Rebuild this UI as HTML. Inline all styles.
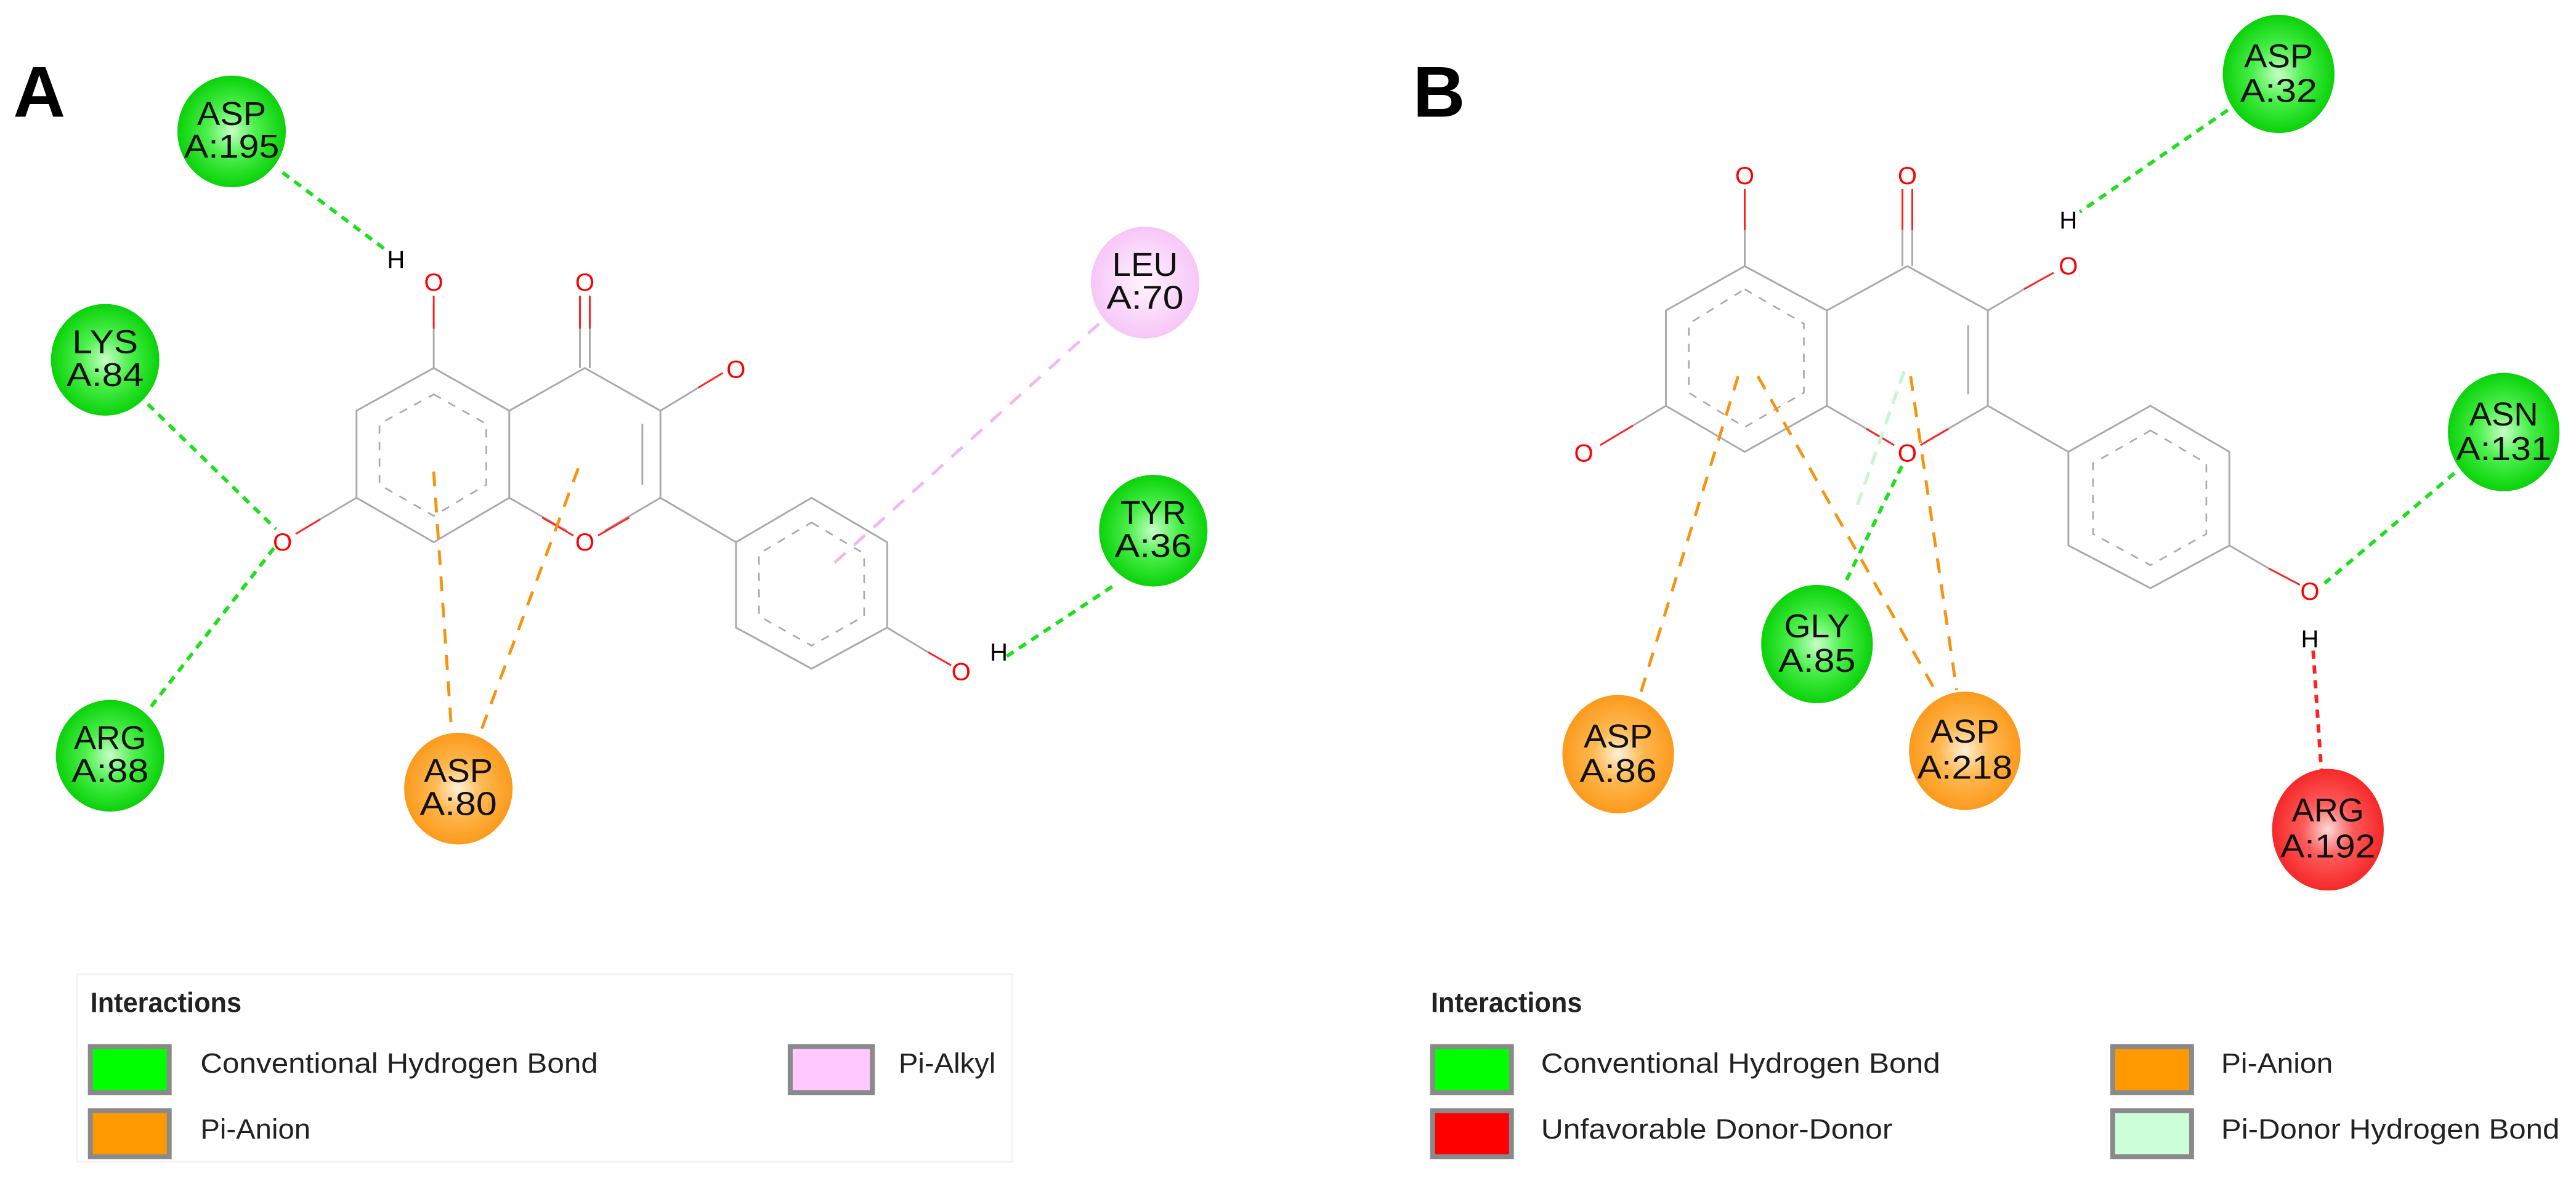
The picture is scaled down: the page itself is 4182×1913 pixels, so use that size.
<!DOCTYPE html>
<html><head><meta charset="utf-8"><style>
html,body{margin:0;padding:0;background:#fff;}
svg{display:block;}
text{font-family:"Liberation Sans Narrow","Liberation Sans",sans-serif;}
</style></head><body>
<svg width="4182" height="1913" viewBox="0 0 1568 717" preserveAspectRatio="none" xmlns="http://www.w3.org/2000/svg">
<defs>
<radialGradient id="gG" cx="50%" cy="50%" r="50%"><stop offset="0" stop-color="#c8ffc8"/><stop offset="0.45" stop-color="#4cf04c"/><stop offset="1" stop-color="#0ad20a"/></radialGradient>
<radialGradient id="gO" cx="50%" cy="50%" r="50%"><stop offset="0" stop-color="#fff0d8"/><stop offset="0.45" stop-color="#ffb850"/><stop offset="1" stop-color="#fb9a1c"/></radialGradient>
<radialGradient id="gP" cx="50%" cy="50%" r="50%"><stop offset="0" stop-color="#fff4ff"/><stop offset="1" stop-color="#f7c6f7"/></radialGradient>
<radialGradient id="gR" cx="50%" cy="50%" r="50%"><stop offset="0" stop-color="#ffd8d8"/><stop offset="0.45" stop-color="#ff5a5a"/><stop offset="1" stop-color="#f52828"/></radialGradient>
</defs>

<text x="8" y="71" font-family="Liberation Sans" font-weight="bold" font-size="44">A</text>
<text x="860" y="71" font-family="Liberation Sans" font-weight="bold" font-size="44">B</text>

<g stroke="#aaa" stroke-width="1.1" fill="none">
<polyline points="264,224 310,250 310,303 264,330 217,303 217,250 264,224"/>
<polyline points="310,250 356,224 402,250 402,303"/>
<polyline points="310,303 345,323"/>
<polyline points="402,303 368,323"/>
<line x1="391" y1="258" x2="391" y2="295"/>
<line x1="264" y1="224" x2="264" y2="185"/>
<line x1="353" y1="224" x2="353" y2="185"/>
<line x1="359" y1="224" x2="359" y2="185"/>
<line x1="402" y1="250" x2="425" y2="236"/>
<line x1="217" y1="303" x2="195" y2="316"/>
<polyline points="402,303 448,330 494,303 540,330 540,382 494,407 448,382 448,330"/>
<line x1="540" y1="382" x2="565" y2="397"/>
</g>
<g stroke="#aaa" stroke-width="1" fill="none" stroke-dasharray="5,5">
<polygon points="264,240 296,258 296,295 264,314 231,295 231,258"/>
<polygon points="494,318 526,337 526,375 494,393 462,375 462,337"/>
</g>
<g stroke="#f22" stroke-width="1.1">
<line x1="264" y1="200" x2="264" y2="180"/><line x1="353" y1="200" x2="353" y2="180"/><line x1="359" y1="200" x2="359" y2="180"/>
<line x1="425" y1="236" x2="440" y2="227"/><line x1="195" y1="316" x2="180" y2="325"/>
<line x1="565" y1="397" x2="579" y2="405"/><line x1="330" y1="315" x2="349" y2="326"/><line x1="383" y1="315" x2="364" y2="326"/>
</g>
<g fill="none" stroke-width="2.2" stroke-dasharray="5,4">
<line x1="172" y1="105" x2="236" y2="153" stroke="#1de01d"/>
<line x1="90" y1="246" x2="168" y2="322" stroke="#1de01d"/>
<line x1="92" y1="430" x2="168" y2="332" stroke="#1de01d"/>
<line x1="677" y1="357" x2="612" y2="400" stroke="#1de01d"/>
</g>
<g fill="none" stroke-width="1.8" stroke-dasharray="9,7">
<line x1="264" y1="287" x2="275" y2="447" stroke="#f7930d"/>
<line x1="352" y1="285" x2="292" y2="447" stroke="#f7930d"/>
<line x1="669" y1="197" x2="503" y2="347" stroke="#f3b6f3"/>
</g>
<g font-family="Liberation Sans" font-size="15" text-anchor="middle">
<text x="264" y="177" fill="#f00">O</text>
<text x="356" y="177" fill="#f00">O</text>
<text x="448" y="230" fill="#f00">O</text>
<text x="172" y="335" fill="#f00">O</text>
<text x="356" y="335" fill="#f00">O</text>
<text x="585" y="414" fill="#f00">O</text>
<text x="241" y="163" fill="#000">H</text>
<text x="608" y="402" fill="#000">H</text>
</g>

<g font-size="20" text-anchor="middle" fill="#111">
<ellipse cx="141" cy="80" rx="33" ry="34" fill="url(#gG)"/>
<text x="141" y="76" textLength="42" lengthAdjust="spacingAndGlyphs">ASP</text><text x="141" y="96" textLength="58" lengthAdjust="spacingAndGlyphs">A:195</text>
<ellipse cx="64" cy="219" rx="33" ry="34" fill="url(#gG)"/>
<text x="64" y="215" textLength="40" lengthAdjust="spacingAndGlyphs">LYS</text><text x="64" y="235" textLength="47" lengthAdjust="spacingAndGlyphs">A:84</text>
<ellipse cx="67" cy="460" rx="33" ry="34" fill="url(#gG)"/>
<text x="67" y="456" textLength="44" lengthAdjust="spacingAndGlyphs">ARG</text><text x="67" y="476" textLength="47" lengthAdjust="spacingAndGlyphs">A:88</text>
<ellipse cx="279" cy="480" rx="33" ry="34" fill="url(#gO)"/>
<text x="279" y="476" textLength="42" lengthAdjust="spacingAndGlyphs">ASP</text><text x="279" y="496" textLength="47" lengthAdjust="spacingAndGlyphs">A:80</text>
<ellipse cx="697" cy="172" rx="33" ry="34" fill="url(#gP)"/>
<text x="697" y="168" textLength="40" lengthAdjust="spacingAndGlyphs">LEU</text><text x="697" y="188" textLength="47" lengthAdjust="spacingAndGlyphs">A:70</text>
<ellipse cx="702" cy="323" rx="33" ry="34" fill="url(#gG)"/>
<text x="702" y="319" textLength="40" lengthAdjust="spacingAndGlyphs">TYR</text><text x="702" y="339" textLength="47" lengthAdjust="spacingAndGlyphs">A:36</text>
</g>

<g stroke="#aaa" stroke-width="1.1" fill="none">
<polyline points="1062,162 1112,189 1112,247 1062,275 1014,247 1014,189 1062,162"/>
<polyline points="1112,189 1161,162 1210,189 1210,247"/>
<polyline points="1112,247 1150,269"/>
<polyline points="1210,247 1172,269"/>
<line x1="1198" y1="198" x2="1198" y2="240"/>
<line x1="1062" y1="162" x2="1062" y2="118"/>
<line x1="1158" y1="162" x2="1158" y2="118"/>
<line x1="1164" y1="162" x2="1164" y2="118"/>
<line x1="1210" y1="189" x2="1232" y2="176"/>
<line x1="1014" y1="247" x2="994" y2="259"/>
<polyline points="1210,247 1259,275 1309,247 1357,275 1357,332 1309,358 1259,332 1259,275"/>
<line x1="1357" y1="332" x2="1381" y2="346"/>
</g>
<g stroke="#aaa" stroke-width="1" fill="none" stroke-dasharray="5,5">
<polygon points="1062,176 1098,197 1098,239 1062,260 1028,239 1028,197"/>
<polygon points="1309,262 1343,282 1343,325 1309,344 1274,325 1274,282"/>
</g>
<g stroke="#f22" stroke-width="1.1">
<line x1="1062" y1="140" x2="1062" y2="115"/><line x1="1158" y1="140" x2="1158" y2="115"/><line x1="1164" y1="140" x2="1164" y2="115"/>
<line x1="1232" y1="176" x2="1250" y2="166"/><line x1="994" y1="259" x2="974" y2="271"/>
<line x1="1381" y1="346" x2="1400" y2="356"/><line x1="1136" y1="261" x2="1153" y2="271"/><line x1="1186" y1="261" x2="1169" y2="271"/>
</g>
<g fill="none" stroke-width="1.8" stroke-dasharray="9,7" stroke="#f7930d">
<line x1="1058" y1="229" x2="998" y2="424"/>
<line x1="1070" y1="229" x2="1179" y2="422"/>
<line x1="1163" y1="229" x2="1191" y2="420"/>
</g>
<line x1="1159" y1="226" x2="1129" y2="312" stroke="#c8f5d2" stroke-width="2" stroke-dasharray="8,5"/>
<g fill="none" stroke-width="2.2" stroke-dasharray="5,4">
<line x1="1356" y1="67" x2="1266" y2="129" stroke="#1de01d"/>
<line x1="1494" y1="288" x2="1415" y2="355" stroke="#1de01d"/>
<line x1="1124" y1="353" x2="1158" y2="283" stroke="#1de01d"/>
<line x1="1408" y1="396" x2="1413" y2="469" stroke="#f22"/>
</g>
<g font-family="Liberation Sans" font-size="15" text-anchor="middle">
<text x="1062" y="112" fill="#f00">O</text>
<text x="1161" y="112" fill="#f00">O</text>
<text x="1259" y="167" fill="#f00">O</text>
<text x="964" y="281" fill="#f00">O</text>
<text x="1161" y="281" fill="#f00">O</text>
<text x="1406" y="365" fill="#f00">O</text>
<text x="1259" y="139" fill="#000">H</text>
<text x="1406" y="394" fill="#000">H</text>
</g>
<g font-size="20" text-anchor="middle" fill="#111">
<ellipse cx="1387" cy="45" rx="34" ry="36" fill="url(#gG)"/>
<text x="1387" y="41" textLength="42" lengthAdjust="spacingAndGlyphs">ASP</text><text x="1387" y="62" textLength="47" lengthAdjust="spacingAndGlyphs">A:32</text>
<ellipse cx="1524" cy="263" rx="34" ry="36" fill="url(#gG)"/>
<text x="1524" y="259" textLength="42" lengthAdjust="spacingAndGlyphs">ASN</text><text x="1524" y="280" textLength="58" lengthAdjust="spacingAndGlyphs">A:131</text>
<ellipse cx="1106" cy="392" rx="34" ry="36" fill="url(#gG)"/>
<text x="1106" y="388" textLength="40" lengthAdjust="spacingAndGlyphs">GLY</text><text x="1106" y="409" textLength="47" lengthAdjust="spacingAndGlyphs">A:85</text>
<ellipse cx="985" cy="459" rx="34" ry="36" fill="url(#gO)"/>
<text x="985" y="455" textLength="42" lengthAdjust="spacingAndGlyphs">ASP</text><text x="985" y="476" textLength="47" lengthAdjust="spacingAndGlyphs">A:86</text>
<ellipse cx="1196" cy="457" rx="34" ry="36" fill="url(#gO)"/>
<text x="1196" y="452" textLength="42" lengthAdjust="spacingAndGlyphs">ASP</text><text x="1196" y="474" textLength="58" lengthAdjust="spacingAndGlyphs">A:218</text>
<ellipse cx="1417" cy="505" rx="34" ry="37" fill="url(#gR)"/>
<text x="1417" y="500" textLength="44" lengthAdjust="spacingAndGlyphs">ARG</text><text x="1417" y="522" textLength="58" lengthAdjust="spacingAndGlyphs">A:192</text>
</g>

<rect x="47" y="593" width="569" height="114" fill="none" stroke="#f2f2f2" stroke-width="1"/>
<g font-size="17" fill="#222">
<text x="55" y="616" font-weight="bold" textLength="92" lengthAdjust="spacingAndGlyphs">Interactions</text>
<rect x="55" y="637" width="48" height="28" fill="#00ff00" stroke="#8a8a8a" stroke-width="3"/>
<text x="122" y="653" textLength="242" lengthAdjust="spacingAndGlyphs">Conventional Hydrogen Bond</text>
<rect x="55" y="676" width="48" height="28" fill="#ff9900" stroke="#8a8a8a" stroke-width="3"/>
<text x="122" y="693" textLength="67" lengthAdjust="spacingAndGlyphs">Pi-Anion</text>
<rect x="481" y="637" width="50" height="28" fill="#ffc8ff" stroke="#8a8a8a" stroke-width="3"/>
<text x="547" y="653" textLength="59" lengthAdjust="spacingAndGlyphs">Pi-Alkyl</text>

<text x="871" y="616" font-weight="bold" textLength="92" lengthAdjust="spacingAndGlyphs">Interactions</text>
<rect x="872" y="637" width="48" height="28" fill="#00ff00" stroke="#8a8a8a" stroke-width="3"/>
<text x="938" y="653" textLength="243" lengthAdjust="spacingAndGlyphs">Conventional Hydrogen Bond</text>
<rect x="872" y="676" width="48" height="28" fill="#ff0000" stroke="#8a8a8a" stroke-width="3"/>
<text x="938" y="693" textLength="214" lengthAdjust="spacingAndGlyphs">Unfavorable Donor-Donor</text>
<rect x="1286" y="637" width="48" height="28" fill="#ff9900" stroke="#8a8a8a" stroke-width="3"/>
<text x="1352" y="653" textLength="68" lengthAdjust="spacingAndGlyphs">Pi-Anion</text>
<rect x="1286" y="676" width="48" height="28" fill="#ccffd9" stroke="#8a8a8a" stroke-width="3"/>
<text x="1352" y="693" textLength="206" lengthAdjust="spacingAndGlyphs">Pi-Donor Hydrogen Bond</text>
</g>
</svg>
</body></html>
